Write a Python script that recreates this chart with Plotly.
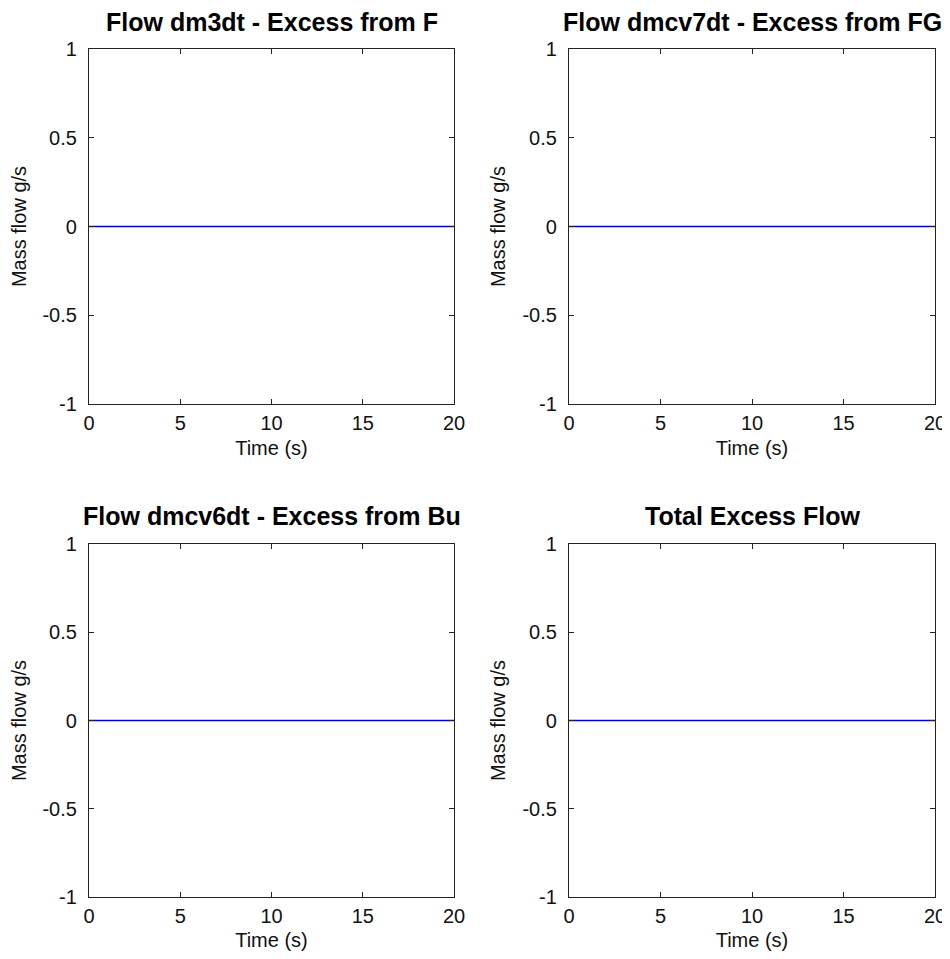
import plotly.graph_objects as go

W, H = 950, 959
OFF = 8  # page body margin in the browser
FW, FH = W - OFF, H - 2 * OFF  # figure size so the page does not overflow
titles = ["Flow dm3dt - Excess from F", "Flow dmcv7dt - Excess from FG",
          "Flow dmcv6dt - Excess from Bu", "Total Excess Flow"]
time_s = [0, 5, 10, 15, 20]
flow_dm3dt = [0, 0, 0, 0, 0]
flow_dmcv7dt = [0, 0, 0, 0, 0]
flow_dmcv6dt = [0, 0, 0, 0, 0]
flow_total = [0, 0, 0, 0, 0]
x_ticks = [0, 5, 10, 15, 20]
y_ticks = [-1, -0.5, 0, 0.5, 1]
y_ticklabels = ["-1", "-0.5", "0", "0.5", "1"]
series = [flow_dm3dt, flow_dmcv7dt, flow_dmcv6dt, flow_total]


def fx(px):
    return (px - OFF) / FW


def fy(py):
    return 1 - (py - OFF) / FH


xdoms = [[fx(89), fx(454)], [fx(569), fx(935)]]
ydoms = [[fy(404), fy(49)], [fy(897), fy(544)]]
title_y = [fy(22), fy(516)]

fig = go.Figure()
FONT = "Liberation Sans, Arial"
tickfont = dict(family=FONT, size=20, color="#111")
for i in range(4):
    r, c = divmod(i, 2)
    n = "" if i == 0 else str(i + 1)
    fig.add_trace(go.Scatter(x=time_s, y=series[i], mode="lines",
                             line=dict(color="#0000d0", width=1.3),
                             xaxis="x" + n, yaxis="y" + n, showlegend=False))
    fig.layout["xaxis" + n] = dict(
        domain=xdoms[c], anchor="y" + n, range=[0, 20], tickvals=x_ticks,
        ticks="inside", ticklen=5, tickcolor="#222", mirror="ticks",
        showline=True, linecolor="#222", linewidth=1.2, showgrid=False, zeroline=False,
        tickfont=tickfont, automargin=False, ticklabelstandoff=1, ticklabeloverflow="allow",
        title=dict(text="Time (s)", font=dict(family=FONT, size=20, color="#111"), standoff=7))
    fig.layout["yaxis" + n] = dict(
        domain=ydoms[r], anchor="x" + n, range=[-1, 1], tickvals=y_ticks, ticktext=y_ticklabels,
        ticks="inside", ticklen=5, tickcolor="#222", mirror="ticks",
        showline=True, linecolor="#222", linewidth=1.2, showgrid=False, zeroline=False,
        tickfont=tickfont, automargin=False, ticklabelstandoff=7, ticklabeloverflow="allow",
        title=dict(text="Mass flow g/s", font=dict(family=FONT, size=20, color="#111"), standoff=11))
    fig.add_annotation(text="<b>" + titles[i] + "</b>", xref="paper", yref="paper",
                       x=sum(xdoms[c]) / 2, y=title_y[r], xanchor="center", yanchor="middle",
                       showarrow=False, font=dict(family=FONT, size=25, color="#000"))

fig.update_layout(width=FW, height=FH, margin=dict(l=0, r=0, t=0, b=0, autoexpand=False),
                  paper_bgcolor="white", plot_bgcolor="white")
fig.write_html("out.html")
